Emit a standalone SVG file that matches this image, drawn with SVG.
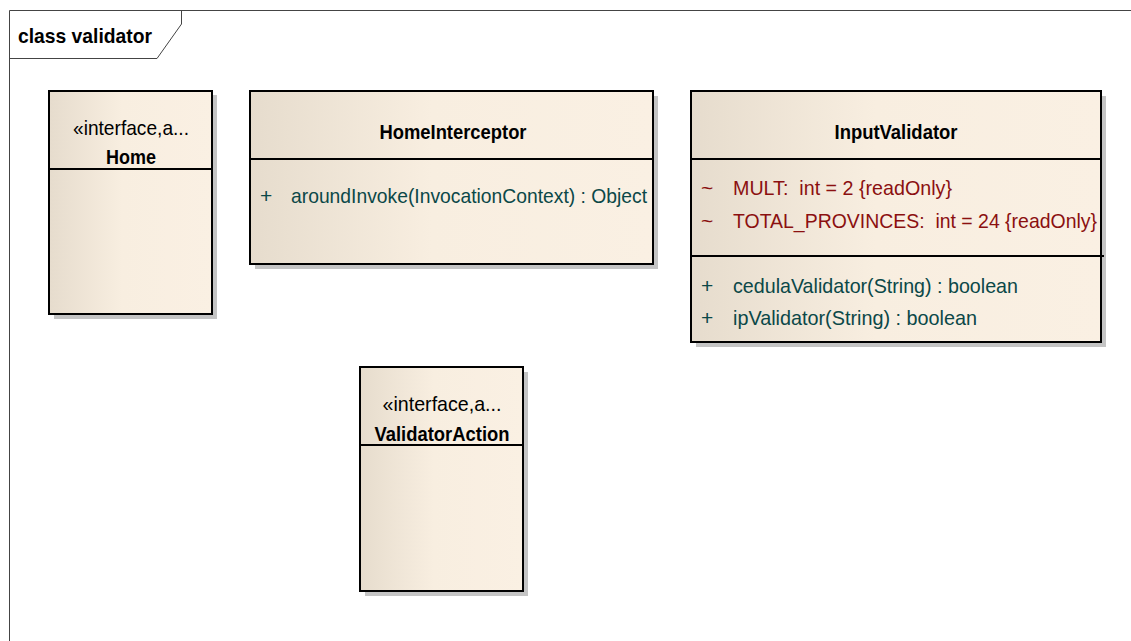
<svg xmlns="http://www.w3.org/2000/svg" width="1131" height="641" viewBox="0 0 1131 641">
<style>
text{font-family:"Liberation Sans",Arial,sans-serif;font-size:21px;white-space:pre}
.t{font-weight:bold;fill:#000;text-anchor:middle}
.s{fill:#000;text-anchor:middle}
.a{fill:#8b1010}
.m{fill:#0b4848}
.box{fill:url(#g);stroke:#000;stroke-width:2}
.sh{fill:#c4c4c4}
.ln{stroke:#000;stroke-width:2;fill:none}
</style>
<defs>
<linearGradient id="g" x1="0" y1="0" x2="1" y2="0">
<stop offset="0" stop-color="#e6dccd"/>
<stop offset="0.45" stop-color="#f8eee0"/>
<stop offset="1" stop-color="#faf0e3"/>
</linearGradient>
</defs>
<rect width="1131" height="641" fill="#fff"/>
<g id="frame">
<path d="M9.5 641 V10.5 H1131" fill="none" stroke="#444" stroke-width="1"/>
<path d="M9.5 58.5 H157 L181.5 24 V10.5" fill="none" stroke="#444" stroke-width="1"/>
<text x="18" y="43" font-weight="bold" font-size="20" textLength="134" lengthAdjust="spacingAndGlyphs">class validator</text>
</g>
<g id="Home">
<rect class="sh" x="54" y="95" width="163" height="224"/>
<rect class="box" x="49" y="91" width="163" height="223"/>
<line class="ln" x1="49" y1="169" x2="212" y2="169"/>
<text class="s" x="131" y="135" textLength="116" lengthAdjust="spacingAndGlyphs">«interface,a...</text>
<text class="t" x="131" y="164" textLength="50" lengthAdjust="spacingAndGlyphs">Home</text>
</g>
<g id="HomeInterceptor">
<rect class="sh" x="255" y="96" width="403" height="173"/>
<rect class="box" x="250" y="91" width="403" height="173"/>
<line class="ln" x1="250" y1="159" x2="653" y2="159"/>
<text class="t" x="453" y="139" textLength="147" lengthAdjust="spacingAndGlyphs">HomeInterceptor</text>
<text class="m" x="260" y="203">+</text>
<text class="m" x="291" y="203" textLength="356" lengthAdjust="spacingAndGlyphs">aroundInvoke(InvocationContext) : Object</text>
</g>
<g id="InputValidator">
<rect class="sh" x="696" y="96" width="410" height="251"/>
<rect class="box" x="691" y="91" width="410" height="251"/>
<line class="ln" x1="691" y1="159" x2="1101" y2="159"/>
<line class="ln" x1="691" y1="256" x2="1104" y2="256"/>
<text class="t" x="896" y="139" textLength="123" lengthAdjust="spacingAndGlyphs">InputValidator</text>
<text class="a" x="701" y="195">~</text>
<text class="a" x="733" y="195" textLength="219" lengthAdjust="spacingAndGlyphs">MULT:  int = 2 {readOnly}</text>
<text class="a" x="701" y="228">~</text>
<text class="a" x="733" y="228" textLength="364" lengthAdjust="spacingAndGlyphs">TOTAL_PROVINCES:  int = 24 {readOnly}</text>
<text class="m" x="701" y="293">+</text>
<text class="m" x="733" y="293" textLength="285" lengthAdjust="spacingAndGlyphs">cedulaValidator(String) : boolean</text>
<text class="m" x="701" y="325">+</text>
<text class="m" x="733" y="325" textLength="244" lengthAdjust="spacingAndGlyphs">ipValidator(String) : boolean</text>
</g>
<g id="ValidatorAction">
<rect class="sh" x="365" y="372" width="163" height="224"/>
<rect class="box" x="360" y="367" width="163" height="224"/>
<line class="ln" x1="360" y1="445" x2="523" y2="445"/>
<text class="s" x="442" y="411" textLength="119" lengthAdjust="spacingAndGlyphs">«interface,a...</text>
<text class="t" x="442" y="441" textLength="135" lengthAdjust="spacingAndGlyphs">ValidatorAction</text>
</g>
<g id="connectors"></g>
</svg>
